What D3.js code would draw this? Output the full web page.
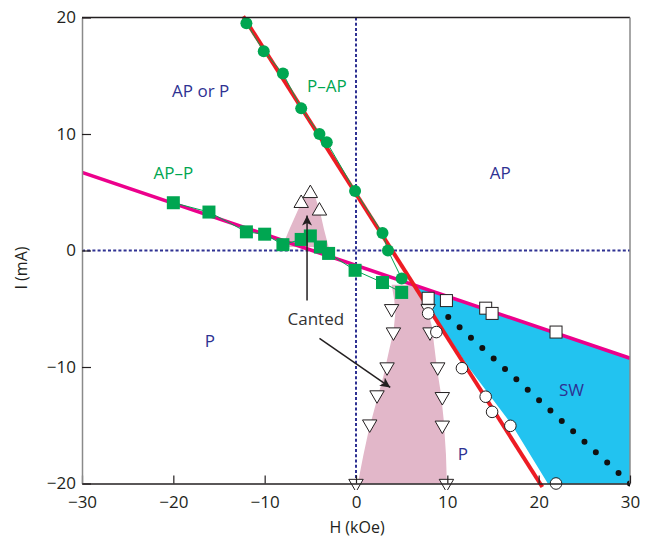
<!DOCTYPE html>
<html><head><meta charset="utf-8">
<script src="https://cdn.jsdelivr.net/npm/d3@7"></script>
<style>
html,body{margin:0;padding:0;background:#fff;}
svg{display:block;font-family:"Open Sans","Noto Sans",sans-serif;}
</style></head>
<body>
<svg id="chart" width="645" height="539"></svg>
<script>
// ---- data (H in kOe, I in mA) ----
const xTicks = [-30, -20, -10, 0, 10, 20, 30];
const yTicks = [-20, -10, 0, 10, 20];

const pApCircles = [[-12.0,19.5],[-10.1,17.1],[-8.0,15.2],[-6.0,12.2],[-4.0,10.0],[-3.2,9.3],[-0.1,5.1],[2.9,1.5],[3.5,0.0],[5.0,-2.4]];
const apPSquares = [[-20.0,4.1],[-16.1,3.3],[-12.0,1.6],[-10.0,1.4],[-8.0,0.5],[-6.0,0.95],[-5.0,1.25],[-3.9,0.3],[-3.0,-0.25],[-0.1,-1.7],[2.9,-2.75],[5.0,-3.6]];
const upTriangles = [[-5.0,4.9],[-6.0,4.05],[-4.0,3.4]];
const downTriangles = [[3.9,-5.0],[4.1,-7.0],[3.4,-10.0],[2.3,-12.4],[1.5,-14.9],[0.0,-20.0],[7.9,-5.0],[8.1,-7.0],[8.95,-10.0],[9.45,-12.55],[9.45,-15.0],[9.9,-20.0]];
const openCircles = [[7.9,-5.4],[8.8,-7.0],[11.6,-10.1],[14.2,-12.55],[14.9,-13.85],[16.9,-15.05],[21.9,-20.0]];
const openSquares = [[7.9,-4.1],[9.9,-4.3],[14.2,-4.95],[14.9,-5.4],[21.9,-7.0]];

const redLine = [[-12.35,20.1],[20.4,-20.3]];
const magentaLine = [[-30,6.7],[30,-9.25]];
const swDotted = [[10.1,-5.7],[30,-20]];

const cantedUpper = [[-8.1,0.3],[-7.3,1.8],[-6.4,3.4],[-5.6,4.7],[-4.5,4.7],[-3.9,3.2],[-3.5,1.8],[-3.0,0.3]];
const cantedLower = [[3.9,-2.95],[4.2,-4.3],[4.3,-5.4],[4.1,-7.0],[3.7,-8.3],[3.0,-10.8],[2.3,-12.8],[1.4,-15.4],[0.8,-17.6],[0.2,-20],[9.95,-20],[9.85,-17.5],[9.6,-14.5],[9.3,-12.3],[8.9,-10.3],[8.3,-6.5],[7.7,-4.6],[6.8,-2.95]];
const swRegion = [[6.4,-3.0],[30,-9.25],[30,-20],[21.0,-20],[17.1,-15.0],[12.3,-10.0],[8.6,-5.6],[7.2,-4.0]];

const regionLabels = [
  {t:"AP or P", x:-17.0, y:13.2, c:"#2e3192"},
  {t:"P\u2013AP", x:-3.2, y:13.6, c:"#00a651"},
  {t:"AP\u2013P", x:-20.0, y:6.1, c:"#00a651"},
  {t:"AP", x:15.8, y:6.1, c:"#2e3192"},
  {t:"P", x:-16.0, y:-8.3, c:"#2e3192"},
  {t:"SW", x:23.6, y:-12.5, c:"#2e3192"},
  {t:"P", x:11.7, y:-18.0, c:"#2e3192"}
];
const cantedText = {t:"Canted", x:-4.4, y:-6.4};
const arrows = [[[-5.36,-4.3],[-5.36,3.0]], [[-4.0,-7.55],[3.75,-11.75]]];

// ---- drawing ----
const svg = d3.select("#chart");
const x = d3.scaleLinear().domain([-30,30]).range([82,630]);
const y = d3.scaleLinear().domain([-20,20]).range([483.5,17.5]);
const line2 = d3.line().x(d=>x(d[0])).y(d=>y(d[1]));
const closed = d3.line().x(d=>x(d[0])).y(d=>y(d[1])).curve(d3.curveLinearClosed);

svg.append("defs").append("clipPath").attr("id","clip")
  .append("rect").attr("x",82).attr("y",14).attr("width",548).attr("height",476);

const g = svg.append("g").attr("clip-path","url(#clip)");

g.append("path").datum(cantedUpper).attr("d", closed).attr("fill","#e2b7c9");
g.append("path").datum(cantedLower).attr("d", closed).attr("fill","#e2b7c9");
g.append("path").datum(swRegion).attr("d", closed).attr("fill","#22c3f0");

// dashed zero lines
g.append("line").attr("x1",x(0)).attr("x2",x(0)).attr("y1",y(20)).attr("y2",y(-20))
  .attr("stroke","#2e3192").attr("stroke-width",2).attr("stroke-dasharray","3 2.2");
g.append("line").attr("x1",x(-30)).attr("x2",x(30)).attr("y1",y(0)).attr("y2",y(0))
  .attr("stroke","#2e3192").attr("stroke-width",2).attr("stroke-dasharray","3 2.2");

g.append("path").datum(magentaLine).attr("d",line2).attr("stroke","#ec008c").attr("stroke-width",3.6).attr("fill","none");
g.append("path").datum(redLine).attr("d",line2).attr("stroke","#ed1c24").attr("stroke-width",4).attr("fill","none");
g.append("path").datum(pApCircles).attr("d",line2).attr("stroke","#00a651").attr("stroke-width",1).attr("fill","none");
g.append("path").datum(apPSquares).attr("d",line2).attr("stroke","#00a651").attr("stroke-width",1).attr("fill","none");

g.append("path").datum(swDotted).attr("d",line2).attr("stroke","#111").attr("stroke-width",6)
  .attr("stroke-linecap","round").attr("stroke-dasharray","0 15.4").attr("fill","none");

// markers
g.selectAll(".gc").data(pApCircles).join("circle").attr("cx",d=>x(d[0])).attr("cy",d=>y(d[1])).attr("r",6).attr("fill","#00a651");
g.selectAll(".gs").data(apPSquares).join("rect").attr("x",d=>x(d[0])-6.5).attr("y",d=>y(d[1])-6.5).attr("width",13).attr("height",13).attr("fill","#00a651");
const tri = d3.symbol().type(d3.symbolTriangle).size(90);
g.selectAll(".ut").data(upTriangles).join("path").attr("d",tri)
  .attr("transform",d=>`translate(${x(d[0])},${y(d[1])})`).attr("fill","#fff").attr("stroke","#231f20").attr("stroke-width",1);
g.selectAll(".dt").data(downTriangles).join("path").attr("d",tri)
  .attr("transform",d=>`translate(${x(d[0])},${y(d[1])}) rotate(180)`).attr("fill","#fff").attr("stroke","#231f20").attr("stroke-width",1);
g.selectAll(".oc").data(openCircles).join("circle").attr("cx",d=>x(d[0])).attr("cy",d=>y(d[1])).attr("r",5.8)
  .attr("fill","#fff").attr("stroke","#231f20").attr("stroke-width",1);
g.selectAll(".os").data(openSquares).join("rect").attr("x",d=>x(d[0])-6).attr("y",d=>y(d[1])-6).attr("width",12).attr("height",12)
  .attr("fill","#fff").attr("stroke","#231f20").attr("stroke-width",1);

// arrows
svg.append("defs").append("marker").attr("id","ah").attr("viewBox","0 0 10 10").attr("refX",10).attr("refY",5)
  .attr("markerWidth",10).attr("markerHeight",10).attr("markerUnits","userSpaceOnUse").attr("orient","auto")
  .append("path").attr("d","M0,0 L10,5 L0,10 L2.5,5 Z").attr("fill","#231f20");
arrows.forEach(a=>{
  svg.append("path").datum(a).attr("d",line2).attr("stroke","#231f20").attr("stroke-width",1.5)
    .attr("fill","none").attr("marker-end","url(#ah)");
});

// labels
svg.selectAll(".rl").data(regionLabels).join("text").attr("x",d=>x(d.x)).attr("y",d=>y(d.y))
  .attr("text-anchor","middle").attr("font-size",17).attr("fill",d=>d.c).text(d=>d.t);
svg.append("text").attr("x",x(cantedText.x)).attr("y",y(cantedText.y)).attr("text-anchor","middle")
  .attr("font-size",17).attr("fill","#333").text(cantedText.t);

// frame
svg.append("line").attr("x1",82).attr("x2",630).attr("y1",17.5).attr("y2",17.5).attr("stroke","#231f20").attr("stroke-width",1.5);
svg.append("line").attr("x1",630).attr("x2",630).attr("y1",17.5).attr("y2",483.5).attr("stroke","#8a8a8a").attr("stroke-width",1.5);

// axes
const xAxis = d3.axisBottom(x).tickValues(xTicks).tickSizeInner(-8).tickSizeOuter(0).tickPadding(12);
const gx = svg.append("g").attr("transform","translate(0,483.5)").call(xAxis);
gx.select(".domain").attr("stroke","#231f20").attr("stroke-width",1.5);
gx.selectAll(".tick line").attr("stroke","#231f20").attr("stroke-width",1.2);
gx.selectAll("text").attr("font-size",17).attr("fill","#231f20").attr("font-family","Open Sans, sans-serif");

const yAxis = d3.axisLeft(y).tickValues(yTicks).tickSizeInner(-9).tickSizeOuter(0).tickPadding(6);
const gy = svg.append("g").attr("transform","translate(82,0)").call(yAxis);
gy.select(".domain").attr("stroke","#8a8a8a").attr("stroke-width",1.5);
gy.selectAll(".tick line").attr("stroke","#231f20").attr("stroke-width",1.2);
gy.selectAll("text").attr("font-size",17).attr("fill","#231f20").attr("font-family","Open Sans, sans-serif");

svg.append("text").attr("x",357).attr("y",533).attr("text-anchor","middle").attr("font-size",16).attr("fill","#231f20").text("H (kOe)");
svg.append("text").attr("transform","translate(27,268) rotate(-90)").attr("text-anchor","middle").attr("font-size",16).attr("fill","#231f20").text("I (mA)");
</script>
</body></html>
